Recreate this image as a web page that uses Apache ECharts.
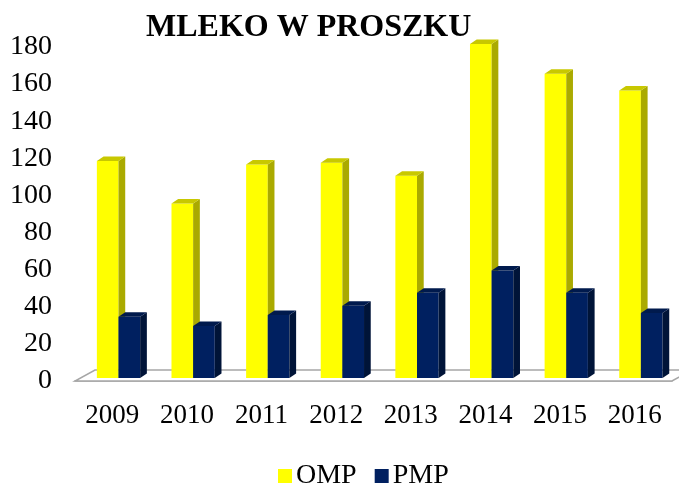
<!DOCTYPE html>
<html>
<head>
<meta charset="utf-8">
<script src="https://cdn.jsdelivr.net/npm/echarts@6/dist/echarts.min.js"></script>
<style>html,body{margin:0;padding:0;background:#fff}#c{width:679px;height:487px}</style>
</head>
<body>
<div id="c"></div>
<script>
var categories = ['2009','2010','2011','2012','2013','2014','2015','2016'];
var omp = [117, 94, 115, 116, 109, 180, 164, 155];
var pmp = [33, 28, 34, 39, 46, 58, 46, 35];
var yTicks = [0, 20, 40, 60, 80, 100, 120, 140, 160, 180];

var FONT = '"Liberation Serif", "Times New Roman", serif';
var chart = echarts.init(document.getElementById('c'));

var styles = {
  OMP: {front: '#FFFF00', side: '#AAAA00', top: '#C8C800', kind: 0},
  PMP: {front: '#002060', side: '#001438', top: '#001A4D', kind: 1}
};

function barRenderer(st) {
  return function (params, api) {
    var idx = api.value(0), v = api.value(1);
    var base = api.coord([idx, 0]);
    var top = api.coord([idx, v]);
    var band = api.size([1, 0])[0];
    var w = band * 0.29;
    var split = base[0] + band * 0.083;
    var x0 = st.kind === 0 ? split - w : split;
    var x1 = x0 + w;
    var lift = 3;
    var yb = base[1] - lift, yt = top[1] - lift;
    var dx = band * 0.09, dy = 4.5;
    return {
      type: 'group',
      children: [
        {type: 'polygon', shape: {points: [[x0, yt], [x1, yt], [x1, yb], [x0, yb]]}, style: {fill: st.front}},
        {type: 'polygon', shape: {points: [[x1, yt], [x1 + dx, yt - dy], [x1 + dx, yb - dy], [x1, yb]]}, style: {fill: st.side}},
        {type: 'polygon', shape: {points: [[x0, yt], [x0 + dx, yt - dy], [x1 + dx, yt - dy], [x1, yt]]}, style: {fill: st.top}}
      ]
    };
  };
}

function floorRenderer(params, api) {
  var band = api.size([1, 0])[0];
  var a = api.coord([0, 0]);
  var b = api.coord([categories.length - 1, 0]);
  var L = a[0] - band / 2, R = b[0] + band / 2, y = a[1];
  var dx = 20, dy = 11;
  return {
    type: 'polygon',
    shape: {points: [[L, y], [R, y], [R + dx, y - dy], [L + dx, y - dy]]},
    style: {fill: '#ffffff', stroke: '#A6A6A6', lineWidth: 1.5}
  };
}

chart.setOption({
  animation: false,
  backgroundColor: '#ffffff',
  title: {
    text: 'MLEKO W PROSZKU',
    left: 141, top: 7,
    textStyle: {fontFamily: FONT, fontSize: 32, fontWeight: 'bold', color: '#000'}
  },
  legend: {
    data: ['OMP', 'PMP'],
    left: 273, top: 457,
    icon: 'rect', itemWidth: 14, itemHeight: 14, itemGap: 18,
    textStyle: {fontFamily: FONT, fontSize: 28, color: '#000', padding: [0, 0, 0, -1]}
  },
  grid: {left: 75, right: 7, top: 47, bottom: 106},
  xAxis: {
    type: 'category',
    data: categories,
    axisLine: {lineStyle: {color: '#A6A6A6', width: 1.5}},
    axisTick: {length: 10, lineStyle: {color: '#A6A6A6', width: 1.5}},
    axisLabel: {fontFamily: FONT, fontSize: 27, color: '#000', margin: 21}
  },
  yAxis: {
    type: 'value',
    min: yTicks[0], max: yTicks[yTicks.length - 1], interval: 20,
    axisLine: {show: false}, axisTick: {show: false}, splitLine: {show: false},
    axisLabel: {fontFamily: FONT, fontSize: 28, color: '#000', margin: 23}
  },
  series: [
    {type: 'custom', name: 'floor', renderItem: floorRenderer, data: [[0, 0]], z: 1, silent: true},
    {type: 'custom', name: 'OMP', renderItem: barRenderer(styles.OMP), itemStyle: {color: styles.OMP.front},
     data: omp.map(function (v, i) { return [i, v]; }), z: 2},
    {type: 'custom', name: 'PMP', renderItem: barRenderer(styles.PMP), itemStyle: {color: styles.PMP.front},
     data: pmp.map(function (v, i) { return [i, v]; }), z: 3}
  ]
});
</script>
</body>
</html>
